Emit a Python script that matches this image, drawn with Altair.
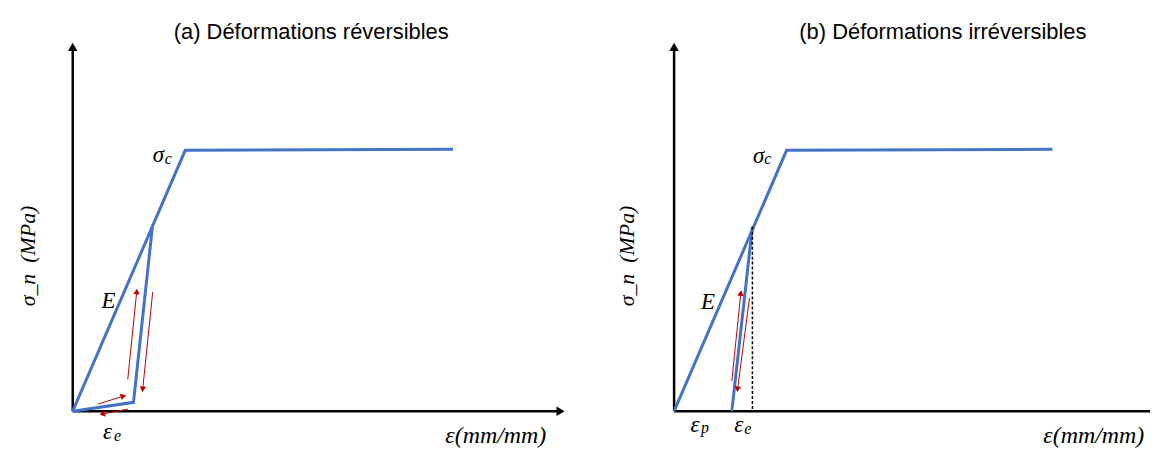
import math
import altair as alt
import pandas as pd

# ---------------- data (strain units, stress units) ----------------
# panel (a) reversible
a_load_x = [0.0, 1.0, 3.38]
a_load_y = [0.0, 100.0, 100.4]
a_unload_x = [0.708, 0.54, 0.0]
a_unload_y = [70.6, 3.4, 0.0]
a_red_x0 = [0.489, 0.711, 0.224, 0.489]
a_red_y0 = [12.2, 45.7, 2.7, 0.8]
a_red_x1 = [0.569, 0.622, 0.451, 0.263]
a_red_y1 = [45.9, 8.4, 5.8, -1.1]

# panel (b) irreversible
b_load_x = [0.0, 1.0, 3.363]
b_load_y = [0.0, 100.0, 100.4]
b_unload_x = [0.696, 0.513]
b_unload_y = [70.7, 0.0]
b_dash_x = [0.696, 0.696]
b_dash_y = [70.7, 0.0]
b_red_x0 = [0.513, 0.670]
b_red_y0 = [11.6, 43.4]
b_red_x1 = [0.593, 0.564]
b_red_y1 = [45.3, 8.4]

titles = ["(a) Déformations réversibles", "(b) Déformations irréversibles"]
y_label = "σ_n\u00a0\u00a0(MPa)"
x_label = "ε(mm/mm)"

# ---------------- layout constants ----------------
PPX = 113.0
PPY = 2.62
H = 442
WA, WB = 574, 573
OXA, OXB = 65, 95
OY = 404

BLUE = "#4472C4"
RED = "#C00000"
SERIF = "Liberation Serif"
SANS = "Liberation Sans"


def heading(x0, y0, x1, y1):
    dxp = (x1 - x0) * PPX
    dyp = -(y1 - y0) * PPY
    return math.degrees(math.atan2(dxp, -dyp)) % 360


def panel(width, ox, load_x, load_y, unload_x, unload_y, rx0, ry0, rx1, ry1,
          axis_x_end, main_txt, sub_txt, title_pos, title, ylab_pos, xlab_pos,
          dash=None, x_head=True):
    xs = alt.Scale(domain=[-ox / PPX, (width - ox) / PPX], nice=False, zero=False)
    ys = alt.Scale(domain=[-(H - OY) / PPY, OY / PPY], nice=False, zero=False)
    X = lambda f="x": alt.X(f"{f}:Q", scale=xs, axis=None)
    Y = lambda f="y": alt.Y(f"{f}:Q", scale=ys, axis=None)

    # axes
    y_top = (OY - 38) / PPY
    axes = pd.DataFrame({
        "x": [0, 0, 0, axis_x_end],
        "y": [0, y_top, 0, 0],
        "s": ["ya", "ya", "xa", "xa"],
        "i": [0, 1, 0, 1],
    })
    axis_lines = alt.Chart(axes).mark_line(color="black", strokeWidth=2.5).encode(
        x=X(), y=Y(), detail="s:N", order="i:Q")
    hx, hy, ha = [0], [y_top], [0]
    if x_head:
        hx.append(axis_x_end); hy.append(0); ha.append(90)
    heads = pd.DataFrame({"x": hx, "y": hy, "a": ha})
    axis_heads = alt.Chart(heads).mark_point(
        shape="triangle-up", filled=True, color="black", opacity=1, size=90
    ).encode(x=X(), y=Y(), angle=alt.Angle("a:Q", scale=None))

    # blue curves
    rows = []
    for i, (x, y) in enumerate(zip(load_x, load_y)):
        rows.append({"x": x, "y": y, "s": "load", "i": i})
    for i, (x, y) in enumerate(zip(unload_x, unload_y)):
        rows.append({"x": x, "y": y, "s": "unload", "i": i})
    curves = alt.Chart(pd.DataFrame(rows)).mark_line(
        color=BLUE, strokeWidth=3, strokeJoin="miter").encode(
        x=X(), y=Y(), detail="s:N", order="i:Q")

    layers = [axis_lines, axis_heads, curves]

    if dash is not None:
        dd = pd.DataFrame({"x": dash[0], "y": dash[1], "i": [0, 1]})
        layers.append(alt.Chart(dd).mark_line(
            color="black", strokeWidth=1.5, strokeDash=[3, 2]).encode(
            x=X(), y=Y(), order="i:Q"))

    # red arrows
    rr = []
    hh = []
    for k, (a0, b0, a1, b1) in enumerate(zip(rx0, ry0, rx1, ry1)):
        rr.append({"x": a0, "y": b0, "s": k, "i": 0})
        rr.append({"x": a1, "y": b1, "s": k, "i": 1})
        hh.append({"x": a1, "y": b1, "a": heading(a0, b0, a1, b1)})
    layers.append(alt.Chart(pd.DataFrame(rr)).mark_line(
        color=RED, strokeWidth=1).encode(x=X(), y=Y(), detail="s:N", order="i:Q"))
    layers.append(alt.Chart(pd.DataFrame(hh)).mark_point(
        shape="triangle-up", filled=True, color=RED, opacity=1, size=42).encode(
        x=X(), y=Y(), angle=alt.Angle("a:Q", scale=None)))

    # math labels
    layers.append(alt.Chart(pd.DataFrame(main_txt)).mark_text(
        font=SERIF, fontStyle="italic", fontSize=23, color="black").encode(
        x=X(), y=Y(), text="t:N"))
    layers.append(alt.Chart(pd.DataFrame(sub_txt)).mark_text(
        font=SERIF, fontStyle="italic", fontSize=16, color="black").encode(
        x=X(), y=Y(), text="t:N"))
    # title
    layers.append(alt.Chart(pd.DataFrame({"x": [title_pos[0]], "y": [title_pos[1]], "t": [title]}))
                  .mark_text(font=SANS, fontSize=22, color="black").encode(
        x=X(), y=Y(), text="t:N"))
    # axis labels
    layers.append(alt.Chart(pd.DataFrame({"x": [ylab_pos[0]], "y": [ylab_pos[1]], "t": [y_label]}))
                  .mark_text(font=SERIF, fontStyle="italic", fontSize=22, angle=270,
                             color="black").encode(x=X(), y=Y(), text="t:N"))
    layers.append(alt.Chart(pd.DataFrame({"x": [xlab_pos[0]], "y": [xlab_pos[1]], "t": [x_label]}))
                  .mark_text(font=SERIF, fontStyle="italic", fontSize=24,
                             color="black").encode(x=X(), y=Y(), text="t:N"))

    return alt.layer(*layers).properties(width=width, height=H)


pa = panel(
    WA, OXA, a_load_x, a_load_y, a_unload_x, a_unload_y,
    a_red_x0, a_red_y0, a_red_x1, a_red_y1,
    axis_x_end=4.336,
    main_txt={"x": [0.761, 0.319, 0.310], "y": [98.1, 42.4, -8.0], "t": ["σ", "E", "ε"]},
    sub_txt={"x": [0.850, 0.398], "y": [96.6, -9.5], "t": ["c", "e"]},
    title_pos=(2.12, 145.4), title=titles[0],
    ylab_pos=(-0.398, 59.5), xlab_pos=(3.76, -9.5),
)

pb = panel(
    WB, OXB, b_load_x, b_load_y, b_unload_x, b_unload_y,
    b_red_x0, b_red_y0, b_red_x1, b_red_y1,
    axis_x_end=(WB - OXB) / PPX,
    main_txt={"x": [0.752, 0.301, 0.186, 0.575], "y": [97.7, 42.0, -5.3, -5.3],
              "t": ["σ", "E", "ε", "ε"]},
    sub_txt={"x": [0.832, 0.274, 0.655], "y": [96.6, -6.5, -6.9], "t": ["c", "p", "e"]},
    title_pos=(2.389, 145.4), title=titles[1],
    ylab_pos=(-0.416, 59.5), xlab_pos=(3.73, -9.5),
    dash=(b_dash_x, b_dash_y), x_head=False,
)

chart = alt.hconcat(pa, pb, spacing=0, padding=0, background="white").configure_view(stroke=None)
chart.save("out.html", embed_options={"renderer": "svg", "actions": False})
